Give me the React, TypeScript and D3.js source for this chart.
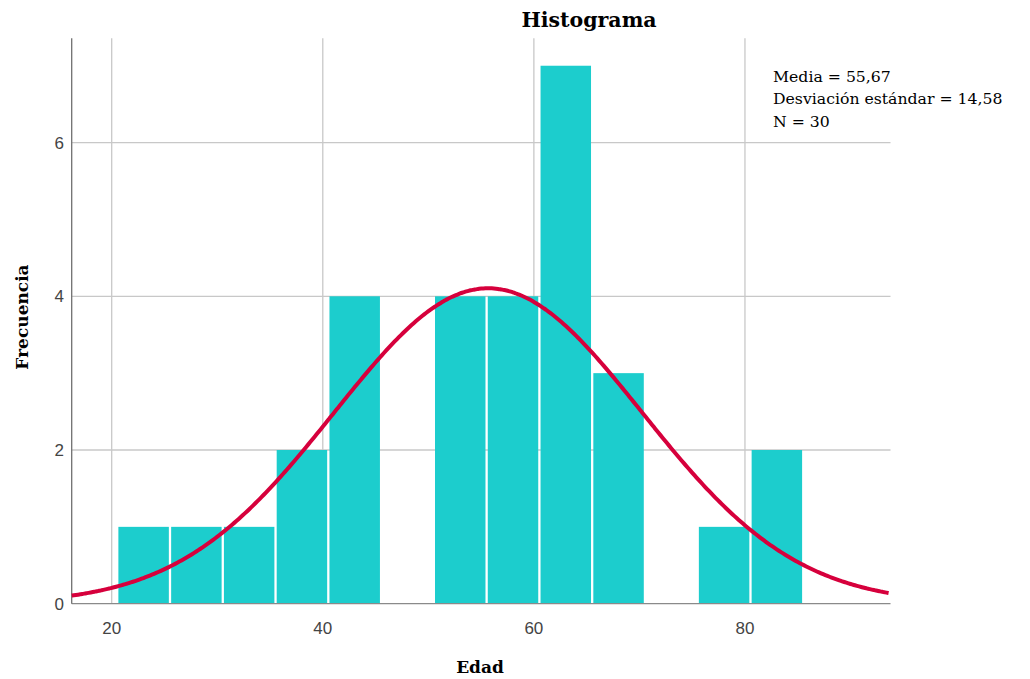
import React, { useEffect, useRef } from 'react';
import * as d3 from 'd3';

// Histogram data (bin start, bin width 5)
const binStarts = [20.5, 25.5, 30.5, 35.5, 40.5, 45.5, 50.5, 55.5, 60.5, 65.5, 70.5, 75.5, 80.5];
const counts = [1, 1, 1, 2, 4, 0, 4, 4, 7, 3, 0, 1, 2];
const binWidth = 5;
const xTicks = [20, 40, 60, 80];
const yTicks = [0, 2, 4, 6];
const mean = 55.67;
const sd = 14.58;
const n = 30;
const statsLines = ['Media = 55,67', 'Desviación estándar = 14,58', 'N = 30'];

const serif = 'DejaVu Serif, Liberation Serif, serif';
const sans = 'Liberation Sans, Arial, sans-serif';

const App = () => {
  const ref = useRef<SVGSVGElement | null>(null);

  useEffect(() => {
    const width = 1030;
    const height = 679;
    const left = 71.7;
    const right = 890.5;
    const top = 38.3;
    const bottom = 603.7;

    const svg = d3.select(ref.current).attr('width', width).attr('height', height);
    svg.selectAll('*').remove();

    const x = d3.scaleLinear().domain([16.21, 93.79]).range([left, right]);
    const y = d3.scaleLinear().domain([0, 7.357]).range([bottom, top]);

    // Grid
    svg.selectAll('.vgrid')
      .data(xTicks)
      .join('line')
      .attr('x1', d => x(d)).attr('x2', d => x(d))
      .attr('y1', top).attr('y2', bottom)
      .attr('stroke', '#c8c8c8').attr('stroke-width', 1.3);

    svg.selectAll('.hgrid')
      .data(yTicks.filter(d => d > 0))
      .join('line')
      .attr('x1', left).attr('x2', right)
      .attr('y1', d => y(d)).attr('y2', d => y(d))
      .attr('stroke', '#c8c8c8').attr('stroke-width', 1.3);

    // Bars
    const bins = binStarts.map((s, i) => ({ x0: s, x1: s + binWidth, count: counts[i] }));
    svg.append('g')
      .selectAll('rect')
      .data(bins.filter(d => d.count > 0))
      .join('rect')
      .attr('x', d => x(d.x0) + 1.4)
      .attr('width', d => x(d.x1) - x(d.x0) - 2.3)
      .attr('y', d => y(d.count))
      .attr('height', d => y(0) - y(d.count))
      .attr('fill', '#1ccdcd');

    // Axes lines
    svg.append('line')
      .attr('x1', left).attr('x2', right)
      .attr('y1', bottom).attr('y2', bottom)
      .attr('stroke', '#8a8a8a').attr('stroke-width', 1.3);
    svg.append('line')
      .attr('x1', left).attr('x2', left)
      .attr('y1', top).attr('y2', bottom)
      .attr('stroke', '#707070').attr('stroke-width', 1.3);

    // Normal curve from the stated mean / sd, scaled to counts
    const pts = d3.range(16.21, 93.8, 0.2).map(v => [
      v,
      (n * binWidth) / (sd * Math.sqrt(2 * Math.PI)) * Math.exp(-0.5 * ((v - mean) / sd) ** 2),
    ]);
    const line = d3.line<number[]>().x(d => x(d[0])).y(d => y(d[1])).curve(d3.curveBasis);
    svg.append('path')
      .datum(pts)
      .attr('d', line)
      .attr('fill', 'none')
      .attr('stroke', '#d6003c')
      .attr('stroke-width', 4);

    // Tick labels
    svg.selectAll('.xlab')
      .data(xTicks)
      .join('text')
      .attr('x', d => x(d))
      .attr('y', 634)
      .attr('text-anchor', 'middle')
      .attr('font-family', sans)
      .attr('font-size', 17)
      .attr('fill', '#444')
      .text(d => d);

    svg.selectAll('.ylab')
      .data(yTicks)
      .join('text')
      .attr('x', 64)
      .attr('y', d => y(d) + 6)
      .attr('text-anchor', 'end')
      .attr('font-family', sans)
      .attr('font-size', 17)
      .attr('fill', '#444')
      .text(d => d);

    // Titles
    svg.append('text')
      .attr('x', 589).attr('y', 27)
      .attr('text-anchor', 'middle')
      .attr('font-family', serif)
      .attr('font-weight', 'bold')
      .attr('font-size', 20.5)
      .attr('fill', '#000')
      .text('Histograma');

    svg.append('text')
      .attr('x', 480).attr('y', 673)
      .attr('text-anchor', 'middle')
      .attr('font-family', serif)
      .attr('font-weight', 'bold')
      .attr('font-size', 17)
      .attr('fill', '#000')
      .text('Edad');

    svg.append('text')
      .attr('transform', 'translate(28, 317) rotate(-90)')
      .attr('text-anchor', 'middle')
      .attr('font-family', serif)
      .attr('font-weight', 'bold')
      .attr('font-size', 17)
      .attr('fill', '#000')
      .text('Frecuencia');

    // Stats box
    svg.selectAll('.stats')
      .data(statsLines)
      .join('text')
      .attr('x', 773)
      .attr('y', (d, i) => 81.7 + i * 22.5)
      .attr('font-family', serif)
      .attr('font-size', 15.7)
      .attr('fill', '#000')
      .text(d => d);
  }, []);

  return (
    <div>
      <svg ref={ref} style={{ position: 'absolute', left: 0, top: 0 }} />
    </div>
  );
};

export default App;
